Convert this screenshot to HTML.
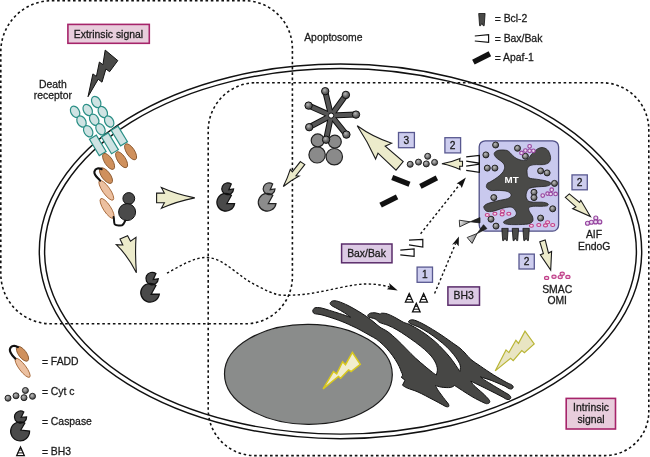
<!DOCTYPE html>
<html><head><meta charset="utf-8"><title>Apoptosis pathways</title>
<style>
html,body{margin:0;padding:0;background:#fff;}
body{width:650px;height:457px;overflow:hidden;font-family:"Liberation Sans",sans-serif;}
svg{display:block;will-change:transform;}
</style></head><body>
<svg width="650" height="457" viewBox="0 0 650 457" font-family="'Liberation Sans', sans-serif">
<defs>
<radialGradient id="gb" cx="0.4" cy="0.35" r="0.65">
<stop offset="0" stop-color="#bdbdbd"/><stop offset="0.5" stop-color="#858585"/><stop offset="1" stop-color="#3e3e3e"/>
</radialGradient>
<radialGradient id="gd" cx="0.4" cy="0.35" r="0.7">
<stop offset="0" stop-color="#b8b8b8"/><stop offset="0.5" stop-color="#707070"/><stop offset="1" stop-color="#3c3c3c"/>
</radialGradient>
<linearGradient id="gw" x1="0" y1="0" x2="1" y2="0.3"><stop offset="0" stop-color="#f4f4f4"/><stop offset="1" stop-color="#7c7c7c"/></linearGradient>
</defs>
<ellipse cx="340.5" cy="251.4" rx="301.2" ry="187.3" fill="#fff" stroke="#111" stroke-width="1.45"/>
<ellipse cx="340.5" cy="251.3" rx="295.9" ry="182.8" fill="none" stroke="#111" stroke-width="1.45"/>
<path d="M51.8,0.7 H244.4 A48,48 0 0 1 292.4,48.7 V276.8 A47,47 0 0 1 245.4,323.8 H50.8 A50,50 0 0 1 0.8,273.8 V51.7 A51,51 0 0 1 51.8,0.7 Z" fill="none" stroke="#111" stroke-width="1.6" stroke-dasharray="2.6 2.7"/>
<path d="M256.2,82.7 H601.8 A47,47 0 0 1 648.8,129.7 V411.6 A44,44 0 0 1 604.8,455.6 H254.7 A46.5,46.5 0 0 1 208.2,409.1 V130.7 A48,48 0 0 1 256.2,82.7 Z" fill="none" stroke="#111" stroke-width="1.6" stroke-dasharray="2.6 2.7"/>
<ellipse cx="308.4" cy="374.3" rx="83.9" ry="50" transform="rotate(0.4 308.4 374.3)" fill="#8a8c8b" stroke="#1a1a1a" stroke-width="1.2"/>
<path d="M312.6,310.8 C313,310.3 313.4,308.4 314.8,307.9 C316.2,307.4 318.5,307.5 321,307.9 C323.5,308.3 326.5,309.5 329.6,310.4 C332.7,311.3 336,312.4 339.5,313.5 C343,314.6 348.7,316.6 350.5,317.2 C349.5,316.5 346.6,314.2 344.4,312.8 C342.1,311.4 339.1,309.7 337,308.5 C334.9,307.3 332.6,306.4 331.5,305.5 C330.4,304.6 330,303.8 330.2,303 C330.4,302.2 331.4,301.2 332.7,300.9 C334,300.6 335.6,300.6 338.2,301.4 C340.8,302.2 344.8,303.9 348.1,305.5 C351.4,307.1 354.8,309.2 357.9,311 C361,312.8 363.8,314.6 366.5,316.5 C369.2,318.4 371.6,320.3 373.9,322.1 C376.1,323.9 377.7,325.6 380,327.2 C382.3,328.8 385,329.7 387.9,331.8 C390.8,333.9 394,336.9 397.1,339.7 C400.2,342.5 403.2,345.8 406.3,348.9 C409.4,352 412.4,355.2 415.5,358.1 C418.6,361 421.9,363.6 424.7,366 C427.5,368.4 430.6,370.9 432.5,372.4 C434.4,373.9 435.7,374.6 436.3,375 C436.5,374 437.6,371.2 437.4,369 C437.2,366.8 436.2,364.1 435.2,362 C434.2,359.9 432.9,358.2 431.2,356.1 C429.4,354 427.3,351.9 424.7,349.6 C422.1,347.3 418.6,344.6 415.5,342.3 C412.4,340 409.4,337.9 406.3,335.8 C403.2,333.7 400.2,331.6 397.1,329.9 C394,328.1 390.8,326.5 387.9,325.3 C385,324.1 382.1,323.7 380,322.6 C377.9,321.6 377,319.9 375.2,319 C373.4,318.1 370.2,317.8 369,317.2 C367.8,316.6 367.6,316 367.8,315.3 C368,314.6 369,313.6 370.2,313.2 C371.4,312.8 373.5,312.6 375.2,312.8 C376.9,313 379.3,313.9 380.1,314.1 C380.4,314 380.7,313.2 381.9,313.2 C383.1,313.2 385.2,313.2 387.3,313.9 C389.4,314.6 392,315.9 394.7,317.3 C397.4,318.7 401.1,321.1 403.3,322.2 C405.6,323.3 407.4,323.5 408.2,323.8 C409.6,324.6 413.8,326.6 416.8,328.4 C419.8,330.2 422.9,332.2 426,334.4 C429.1,336.6 432.3,339.2 435.2,341.7 C438.1,344.2 440.7,347.1 443.1,349.6 C445.5,352.1 447.6,354.4 449.6,356.8 C451.6,359.2 453.4,361.8 454.9,364 C456.4,366.2 458,368.6 458.8,369.9 C459.6,371.1 459.6,371.2 459.8,371.5 C459.9,370.6 460.7,367.8 460.4,366 C460.1,364.2 459.3,362.9 458.2,361 C457.1,359.1 455.5,356.8 453.6,354.5 C451.7,352.2 449.6,349.7 447,347.2 C444.4,344.7 440.9,341.8 437.8,339.4 C434.7,337 431.7,334.8 428.6,332.8 C425.5,330.8 422.3,328.9 419.4,327.4 C416.5,325.9 412.8,325 411,324 C409.2,323 408.2,322.2 408.5,321.5 C408.8,320.8 410.6,319.5 412.8,319.8 C415.1,320.1 418.7,321.8 422,323.4 C425.3,325 429,327.3 432.5,329.4 C436,331.5 439.6,333.8 443.1,336.2 C446.6,338.6 450.8,341.6 453.6,343.6 C456.4,345.6 458.1,346.6 460,348.2 C461.9,349.8 463.2,351.1 465,353 C466.8,354.9 468.4,357.3 471,359.5 C473.6,361.7 476.8,363.6 480.5,366.2 C484.2,368.8 489.1,372.1 493.4,374.8 C497.7,377.5 503.3,380.6 506.3,382.3 C509.3,384 510.5,384 511.6,384.8 C512.8,385.6 513.2,386.3 513.2,387 C513.2,387.7 512.5,388.6 511.8,388.9 C511.1,389.2 510.3,389.1 509,388.6 C507.7,388.1 507.2,387.3 504.2,385.9 C501.2,384.5 495.1,381.9 491.2,380.4 C487.2,378.9 482.3,377.5 480.5,376.9 C481.2,377.4 482.7,378.8 484.8,380.2 C486.9,381.6 490.2,383.5 493.4,385.5 C496.6,387.5 501.6,390.4 504.2,392 C506.8,393.6 507.9,393.9 509,394.8 C510.1,395.7 510.7,396.6 510.8,397.4 C510.9,398.2 510.1,399.1 509.4,399.4 C508.7,399.7 507.6,399.6 506.4,399.2 C505.2,398.8 505.2,398.4 502,396.7 C498.8,395 492.1,391.6 486.9,389 C481.7,386.4 473.5,382.5 470.8,381.2 C471.3,381.9 472,383.5 474,385.5 C476,387.5 480.2,390.9 482.6,393.1 C485,395.4 487.2,397.5 488.4,399 C489.6,400.5 489.9,401.2 489.8,402 C489.7,402.8 488.6,403.5 487.6,403.6 C486.6,403.7 486.6,404 484,402.8 C481.4,401.6 476.7,399.4 471.8,396.5 C466.9,393.6 457.5,387.3 454.6,385.5 C453.9,385.8 452.5,387.2 450.3,387.5 C448.1,387.8 444.2,387.5 441.7,387.2 C439.2,386.9 436.5,385.8 435.5,385.5 C436,386.4 436.9,388.6 438.5,390.9 C440.1,393.2 443.2,397.3 444.9,399.5 C446.5,401.7 447.8,402.8 448.4,404 C449,405.2 449,406.2 448.6,406.6 C448.2,407 447,406.9 446,406.6 C445,406.3 444.9,406 442.8,404.9 C440.7,403.8 437.2,401.8 433.1,399.7 C429,397.6 422.3,393.9 418,392 C413.7,390.1 409.9,389.2 407.3,388.1 C404.7,387 403.3,385.7 402.5,385.2 L405,380.2 L401.2,377.2 C401.4,376.9 402.6,376.1 402.6,375.2 C402.6,374.2 401.8,372.9 401.2,371.5 C400.6,370.1 400.2,368.5 399.2,366.5 C398.2,364.5 396.8,361.9 395.2,359.5 C393.6,357.1 391.7,354.3 389.7,351.9 C387.7,349.4 385.3,346.9 383.1,344.8 C380.9,342.7 378.8,340.9 376.6,339.3 C374.4,337.8 372.4,336.9 370,335.5 C367.6,334.1 364.6,332.4 362,331 C359.4,329.6 357.6,328.6 354.2,327 C350.8,325.4 346,323.1 341.9,321.5 C337.8,319.9 333.1,318.3 329.6,317.2 C326.1,316.1 323.6,315.3 321,314.7 C318.4,314.1 315.6,314.1 314.2,313.5 C312.8,312.9 312.9,311.2 312.6,310.8 Z" fill="#474745" stroke="#111" stroke-width="1" stroke-linejoin="round"/>
<polygon points="323.1,388.8 333.4,371.5 336.7,373.9 342.6,361.7 345.5,364.7 352.4,352.5 360.3,364.3 351.1,371.5 348.5,369.9 340.6,378.3 338.4,376.5" fill="#f1edcf" stroke="#d8c81e" stroke-width="1.5" stroke-linejoin="miter"/>
<polygon points="495.2,370.9 506,349.9 508.9,352.6 515.9,340.3 518.5,343.4 525,331.2 534.2,344 524.4,352.6 521.8,350.5 513.2,360.7 510.6,358.3" fill="#e9e5c3" stroke="#b9b536" stroke-width="1.2" stroke-linejoin="miter"/>
<polygon points="105.2,50.1 117.8,60.6 109.6,71.7 105.9,69 102,82.2 98.2,79.2 88,96.7 92.9,73.9 96.4,76.4 99.4,62 102.9,64.7" fill="#4a4a48" stroke="#111" stroke-width="1" stroke-linejoin="miter"/>
<ellipse cx="75.1" cy="111.8" rx="4.2" ry="6" transform="rotate(-30 75.1 111.8)" fill="#cfe3e3" stroke="#2b8f86" stroke-width="1.2"/>
<ellipse cx="81.5" cy="121.5" rx="4.2" ry="6" transform="rotate(-30 81.5 121.5)" fill="#cfe3e3" stroke="#2b8f86" stroke-width="1.2"/>
<ellipse cx="88.2" cy="131.2" rx="4.2" ry="6" transform="rotate(-30 88.2 131.2)" fill="#cfe3e3" stroke="#2b8f86" stroke-width="1.2"/>
<ellipse cx="87.7" cy="110" rx="4.2" ry="6" transform="rotate(-30 87.7 110)" fill="#cfe3e3" stroke="#2b8f86" stroke-width="1.2"/>
<ellipse cx="94.2" cy="119.7" rx="4.2" ry="6" transform="rotate(-30 94.2 119.7)" fill="#cfe3e3" stroke="#2b8f86" stroke-width="1.2"/>
<ellipse cx="100.5" cy="129.2" rx="4.2" ry="6" transform="rotate(-30 100.5 129.2)" fill="#cfe3e3" stroke="#2b8f86" stroke-width="1.2"/>
<ellipse cx="96.2" cy="102" rx="4.2" ry="6" transform="rotate(-30 96.2 102)" fill="#cfe3e3" stroke="#2b8f86" stroke-width="1.2"/>
<ellipse cx="102.8" cy="112" rx="4.2" ry="6" transform="rotate(-30 102.8 112)" fill="#cfe3e3" stroke="#2b8f86" stroke-width="1.2"/>
<ellipse cx="109.2" cy="121.5" rx="4.2" ry="6" transform="rotate(-30 109.2 121.5)" fill="#cfe3e3" stroke="#2b8f86" stroke-width="1.2"/>
<rect x="93.8" y="135.9" width="8" height="19" transform="rotate(-31 97.8 145.4)" fill="#cfe3e3" stroke="#2b8f86" stroke-width="1.2"/>
<rect x="105.9" y="133.5" width="8" height="19.6" transform="rotate(-31 109.9 143.3)" fill="#cfe3e3" stroke="#2b8f86" stroke-width="1.2"/>
<rect x="115.3" y="126.8" width="8" height="18.4" transform="rotate(-31 119.3 136)" fill="#cfe3e3" stroke="#2b8f86" stroke-width="1.2"/>
<ellipse cx="108.6" cy="161.4" rx="4" ry="9.2" transform="rotate(-33 108.6 161.4)" fill="#cf905c" stroke="#8c5a32" stroke-width="0.9"/>
<ellipse cx="121.6" cy="159.7" rx="4" ry="9.2" transform="rotate(-33 121.6 159.7)" fill="#cf905c" stroke="#8c5a32" stroke-width="0.9"/>
<ellipse cx="130.6" cy="151.8" rx="4" ry="9.2" transform="rotate(-33 130.6 151.8)" fill="#cf905c" stroke="#8c5a32" stroke-width="0.9"/>
<ellipse cx="106" cy="175.6" rx="4.2" ry="9.3" transform="rotate(-37 106 175.6)" fill="#cf905c" stroke="#8c5a32" stroke-width="0.9"/>
<ellipse cx="106.3" cy="190.3" rx="3.7" ry="11.8" transform="rotate(-35 106.3 190.3)" fill="#ecc0a0" stroke="#a86a3c" stroke-width="0.9"/>
<ellipse cx="107.1" cy="208.4" rx="3.7" ry="11.6" transform="rotate(-33 107.1 208.4)" fill="#ecc0a0" stroke="#a86a3c" stroke-width="0.9"/>
<path d="M101.6,169.2 C99,167.8 95.4,168 94.4,171.6 C93.8,175 97.2,177.2 100.1,180.6" fill="none" stroke="#111" stroke-width="2.1" stroke-linecap="round"/>
<path d="M113.6,217 C114.4,219.6 113.6,222.6 114.8,224.4 C116.2,226 119.6,225.6 122,225.2 C124,224.4 124.4,222.4 125.2,220.6" fill="none" stroke="#111" stroke-width="2" stroke-linecap="round"/>
<circle cx="128.8" cy="198.5" r="5.9" fill="#4a4a4a" stroke="#111" stroke-width="1"/>
<circle cx="127.1" cy="212.1" r="8.5" fill="#4a4a4a" stroke="#111" stroke-width="1"/>
<path d="M156.6,193.1 L164.4,193.1 L161.4,187.6 Q177,194.6 194.8,197.9 Q177,201.4 161.4,208.3 L164.4,202.8 L156.6,202.8 Z" fill="#ecebcb" stroke="#1a1a1a" stroke-width="1.1" stroke-linejoin="miter"/>
<path d="M120,239.1 L127.6,235.8 L130.5,241.3 L136,237.4 C135.2,250 135.6,262 136.4,272.8 C131,262 124,252 116.3,244.6 L122.8,245 Z" fill="#ecebcb" stroke="#1a1a1a" stroke-width="1.1" stroke-linejoin="miter"/>
<path d="M300.4,161.6 L304.8,164.6 L296,175.7 L299.1,176 Q290.5,180.6 283.3,186.5 Q287.6,178 290.3,169.4 L292.3,171.9 Z" fill="#ecebcb" stroke="#1a1a1a" stroke-width="1.1" stroke-linejoin="miter"/>
<path d="M357.2,125.8 Q373,137.2 391.7,143.2 L385.2,146.2 L403.2,161.6 L396,170.1 L378,153.1 L375.6,159 Q367.7,141.7 357.2,125.8 Z" fill="#ecebcb" stroke="#1a1a1a" stroke-width="1.1" stroke-linejoin="miter"/>
<path d="M441.9,163.7 C449,162.4 455,160.6 460,158.4 L459.6,161.3 L462.5,161.3 L462.5,166.2 L459.6,166.2 L460,169.6 C455,167 449,165 441.9,163.7 Z" fill="#ecebcb" stroke="#1a1a1a" stroke-width="1.1" stroke-linejoin="miter"/>
<path d="M565.3,197.3 L569.3,193.9 L579.6,202.5 L580.8,200.3 L590.4,216.5 L572.7,208.6 L575.9,206.9 Z" fill="#ecebcb" stroke="#1a1a1a" stroke-width="1.1" stroke-linejoin="miter"/>
<path d="M539.8,241.8 L545.2,239.9 L548.5,253.1 L551.6,251.4 L550.7,270 L540.3,254.7 L543.4,253.6 Z" fill="#ecebcb" stroke="#1a1a1a" stroke-width="1.1" stroke-linejoin="miter"/>
<path d="M1.1,1 L3.6,-4.65 A5.9,5.9 0 1 0 5.9,0.3 Z M-0.9,15 L3.7,6.6 A8.9,8.9 0 1 0 6.9,14.9 Z" transform="translate(227.7,188.7)" fill="#4a4a4a" stroke="#111" stroke-width="1.2"/>
<path d="M1.1,1 L3.6,-4.65 A5.9,5.9 0 1 0 5.9,0.3 Z M-0.9,15 L3.7,6.6 A8.9,8.9 0 1 0 6.9,14.9 Z" transform="translate(269.1,188.7)" fill="#8c8c8c" stroke="#222" stroke-width="1.2"/>
<path d="M1.1,1 L3.6,-4.65 A5.9,5.9 0 1 0 5.9,0.3 Z M-0.9,15 L3.7,6.6 A8.9,8.9 0 1 0 6.9,14.9 Z" transform="translate(152.1,278.5) scale(1.05)" fill="#4a4a4a" stroke="#111" stroke-width="1.2"/>
<path transform="translate(20.2,416.5)" d="M0.9,0.9 L3.6,-4.6 A6.1,6.1 0 1 0 6.4,0.4 Z M0.6,13.5 L4.6,6.6 A9.5,9.5 0 1 0 9.4,14.6 Z" fill="#4a4a4a" stroke="#111" stroke-width="1.2"/>
<circle cx="317.1" cy="154.8" r="8.2" fill="#8a8a8a" stroke="#222" stroke-width="1.2"/>
<circle cx="334.3" cy="156.7" r="8.2" fill="#8a8a8a" stroke="#222" stroke-width="1.2"/>
<circle cx="317.7" cy="140.4" r="6.5" fill="#8a8a8a" stroke="#222" stroke-width="1.2"/>
<circle cx="334.8" cy="141.7" r="6.5" fill="#8a8a8a" stroke="#222" stroke-width="1.2"/>
<line x1="331.1" y1="115.6" x2="325.2" y2="91.2" stroke="#111" stroke-width="6" stroke-linecap="round"/>
<line x1="331.1" y1="115.6" x2="345.9" y2="94.9" stroke="#111" stroke-width="6" stroke-linecap="round"/>
<line x1="331.1" y1="115.6" x2="356" y2="114.6" stroke="#111" stroke-width="6" stroke-linecap="round"/>
<line x1="331.1" y1="115.6" x2="346.4" y2="134.6" stroke="#111" stroke-width="6" stroke-linecap="round"/>
<line x1="331.1" y1="115.6" x2="326.1" y2="139.7" stroke="#111" stroke-width="6" stroke-linecap="round"/>
<line x1="331.1" y1="115.6" x2="309.2" y2="127.2" stroke="#111" stroke-width="6" stroke-linecap="round"/>
<line x1="331.1" y1="115.6" x2="308.6" y2="105.6" stroke="#111" stroke-width="6" stroke-linecap="round"/>
<line x1="331.1" y1="115.6" x2="325.2" y2="91.2" stroke="#555" stroke-width="4" stroke-linecap="round"/>
<line x1="331.1" y1="115.6" x2="345.9" y2="94.9" stroke="#555" stroke-width="4" stroke-linecap="round"/>
<line x1="331.1" y1="115.6" x2="356" y2="114.6" stroke="#555" stroke-width="4" stroke-linecap="round"/>
<line x1="331.1" y1="115.6" x2="346.4" y2="134.6" stroke="#555" stroke-width="4" stroke-linecap="round"/>
<line x1="331.1" y1="115.6" x2="326.1" y2="139.7" stroke="#555" stroke-width="4" stroke-linecap="round"/>
<line x1="331.1" y1="115.6" x2="309.2" y2="127.2" stroke="#555" stroke-width="4" stroke-linecap="round"/>
<line x1="331.1" y1="115.6" x2="308.6" y2="105.6" stroke="#555" stroke-width="4" stroke-linecap="round"/>
<circle cx="325.2" cy="91.2" r="3.7" fill="url(#gd)" stroke="#111" stroke-width="1"/>
<circle cx="345.9" cy="94.9" r="3.7" fill="url(#gd)" stroke="#111" stroke-width="1"/>
<circle cx="356" cy="114.6" r="3.7" fill="url(#gd)" stroke="#111" stroke-width="1"/>
<circle cx="346.4" cy="134.6" r="3.7" fill="url(#gd)" stroke="#111" stroke-width="1"/>
<circle cx="326.1" cy="139.7" r="3.7" fill="url(#gd)" stroke="#111" stroke-width="1"/>
<circle cx="309.2" cy="127.2" r="3.7" fill="url(#gd)" stroke="#111" stroke-width="1"/>
<circle cx="308.6" cy="105.6" r="3.7" fill="url(#gd)" stroke="#111" stroke-width="1"/>
<circle cx="331.1" cy="115.6" r="2.6" fill="#fff" stroke="#111" stroke-width="1"/>
<circle cx="410.2" cy="164.3" r="3" fill="url(#gb)" stroke="#242424" stroke-width="1"/>
<circle cx="418.5" cy="162.1" r="3" fill="url(#gb)" stroke="#242424" stroke-width="1"/>
<circle cx="426.3" cy="163.9" r="3" fill="url(#gb)" stroke="#242424" stroke-width="1"/>
<circle cx="427.7" cy="156.3" r="3" fill="url(#gb)" stroke="#242424" stroke-width="1"/>
<circle cx="434.6" cy="162.4" r="3" fill="url(#gb)" stroke="#242424" stroke-width="1"/>
<circle cx="8" cy="398.2" r="3" fill="url(#gb)" stroke="#242424" stroke-width="1"/>
<circle cx="16" cy="395.8" r="3" fill="url(#gb)" stroke="#242424" stroke-width="1"/>
<circle cx="24" cy="397.7" r="3" fill="url(#gb)" stroke="#242424" stroke-width="1"/>
<circle cx="25.4" cy="390.5" r="3" fill="url(#gb)" stroke="#242424" stroke-width="1"/>
<circle cx="32.5" cy="396.3" r="3" fill="url(#gb)" stroke="#242424" stroke-width="1"/>
<rect x="391.6" y="178.2" width="18.5" height="5.3" transform="rotate(21 400.8 180.9)" fill="#111"/>
<rect x="419.4" y="179.5" width="18.5" height="5.3" transform="rotate(-27 428.7 182.2)" fill="#111"/>
<rect x="379.6" y="198.3" width="18.5" height="5.3" transform="rotate(-27 388.9 201)" fill="#111"/>
<rect x="472.4" y="55.2" width="18.5" height="5.5" transform="rotate(-27 481.6 58)" fill="#111"/>
<rect x="479.2" y="140.8" width="79.4" height="90.3" rx="6" ry="6" fill="#c9c9ee" stroke="#4f4f86" stroke-width="1.3"/>
<path d="M494.2,153.5 C494.4,152.3 496,151.1 497.7,150.5 C499.4,149.9 502.8,149.9 504.6,150.1 C506.5,150.3 507.2,150.3 508.8,151.5 C510.4,152.7 512.4,155.6 514.3,157 C516.1,158.4 517.8,159.3 519.9,159.8 C522,160.3 524.7,160.9 526.8,159.8 C528.9,158.8 530.4,155.3 532.3,153.5 C534.1,151.7 536,149.7 537.9,148.7 C539.8,147.7 541.7,147.3 543.4,147.7 C545.1,148 547.1,149.1 548.3,150.8 C549.5,152.5 550.5,155.8 550.6,157.7 C550.7,159.6 550.1,161.3 548.9,162.5 C547.7,163.7 545.5,164.2 543.4,164.6 C541.3,164.9 538.6,164.5 536.5,164.6 C534.4,164.7 532.4,164.7 530.9,165.3 C529.4,165.9 528.1,166.8 527.5,168.1 C526.9,169.4 526.9,171.3 527.1,172.9 C527.3,174.5 527.3,176.8 528.9,177.8 C530.5,178.9 533.9,178.7 536.5,179.2 C539.1,179.7 542.5,180 544.8,180.6 C547.1,181.2 549.4,181.9 550.3,182.6 C551.2,183.3 551,184 550.3,184.6 C549.6,185.2 548.5,185.8 546.2,186.2 C543.9,186.6 539.3,186.6 536.5,186.9 C533.7,187.2 531.2,187.5 529.6,188.3 C528,189.1 527.4,190.4 526.8,191.8 C526.2,193.2 525.9,195.1 526.1,196.6 C526.3,198.1 526.9,199.9 528.2,200.8 C529.5,201.7 531.4,202 533.7,202.2 C536,202.4 539.7,202 542,202.2 C544.3,202.4 546.7,202.9 547.6,203.5 C548.5,204.1 548.5,205.1 547.6,205.6 C546.7,206.1 544.3,206.2 542,206.3 C539.7,206.4 535.9,206.1 533.7,206.3 C531.5,206.5 529.6,206.8 528.9,207.7 C528.2,208.6 529,210.5 529.6,211.9 C530.2,213.3 531.7,214.6 532.3,216 C532.9,217.4 533.2,219 533,220.2 C532.8,221.3 532.2,222.2 530.9,222.9 C529.6,223.6 528.6,224 525.4,224.3 C522.2,224.6 515.1,224.7 511.6,224.6 C508.1,224.5 505.9,224.1 504.6,223.6 C503.3,223.1 503.4,222.3 503.9,221.6 C504.4,220.9 505.7,220.3 507.4,219.5 C509.1,218.7 512.8,217.8 514.3,216.7 C515.8,215.6 516.4,214.5 516.4,213.2 C516.4,211.9 515.3,210.1 514.3,209.1 C513.3,208.1 512.3,207.1 510.2,207 C508.1,206.9 504.7,207.7 501.9,208.4 C499.1,209.1 496.1,210.7 493.5,211.2 C490.9,211.7 488.2,211.8 486.6,211.2 C485,210.6 484.2,208.6 483.9,207.7 C483.5,206.8 483.8,206.3 484.5,205.6 C485.2,204.9 485.8,204.3 488,203.5 C490.2,202.7 494.5,201.6 497.7,200.8 C500.9,200 505.2,199.5 507.4,198.7 C509.6,197.9 510.4,196.8 510.9,195.9 C511.4,195 511,194 510.2,193.2 C509.4,192.4 508.1,191.6 506,191.1 C503.9,190.6 500.2,190.5 497.7,190.4 C495.2,190.3 492.6,190.9 490.8,190.4 C489,189.9 487.2,188.8 486.6,187.6 C486,186.4 486.6,184.5 487.3,183.5 C488,182.5 489.1,182.7 490.8,181.6 C492.5,180.5 495.6,178.8 497.7,177.1 C499.8,175.4 502,173.4 503.2,171.6 C504.4,169.8 504.8,167.6 504.6,166 C504.4,164.4 503.3,163.3 501.9,161.9 C500.5,160.5 497.6,159.1 496.3,157.7 C495,156.3 494,154.7 494.2,153.5 Z" fill="#4a4a48" stroke="#222" stroke-width="0.8"/>
<circle cx="495.6" cy="145" r="3" fill="url(#gb)" stroke="#242424" stroke-width="1"/>
<circle cx="485.9" cy="154.9" r="3" fill="url(#gb)" stroke="#242424" stroke-width="1"/>
<circle cx="487.3" cy="168.1" r="3" fill="url(#gb)" stroke="#242424" stroke-width="1"/>
<circle cx="494.9" cy="168.1" r="3" fill="url(#gb)" stroke="#242424" stroke-width="1"/>
<circle cx="517.5" cy="148.3" r="3" fill="url(#gb)" stroke="#242424" stroke-width="1"/>
<circle cx="525.4" cy="156.3" r="3" fill="url(#gb)" stroke="#242424" stroke-width="1"/>
<circle cx="540.6" cy="170.9" r="3" fill="url(#gb)" stroke="#242424" stroke-width="1"/>
<circle cx="547.1" cy="172.9" r="3" fill="url(#gb)" stroke="#242424" stroke-width="1"/>
<circle cx="554.5" cy="183.4" r="3" fill="url(#gb)" stroke="#242424" stroke-width="1"/>
<circle cx="534" cy="192.3" r="3" fill="url(#gb)" stroke="#242424" stroke-width="1"/>
<circle cx="534" cy="197.6" r="3" fill="url(#gb)" stroke="#242424" stroke-width="1"/>
<circle cx="493.8" cy="197.6" r="3" fill="url(#gb)" stroke="#242424" stroke-width="1"/>
<circle cx="552.7" cy="208.8" r="3" fill="url(#gb)" stroke="#242424" stroke-width="1"/>
<circle cx="540.6" cy="218.1" r="3" fill="url(#gb)" stroke="#242424" stroke-width="1"/>
<circle cx="491" cy="219.2" r="3" fill="url(#gb)" stroke="#242424" stroke-width="1"/>
<circle cx="496" cy="226.1" r="3" fill="url(#gb)" stroke="#242424" stroke-width="1"/>
<ellipse cx="529.6" cy="146.3" rx="1.8" ry="1.8" fill="#ead9f0" stroke="#96459f" stroke-width="1.15"/>
<ellipse cx="525.4" cy="150.5" rx="1.8" ry="1.8" fill="#ead9f0" stroke="#96459f" stroke-width="1.15"/>
<ellipse cx="529.6" cy="150.8" rx="1.8" ry="1.8" fill="#ead9f0" stroke="#96459f" stroke-width="1.15"/>
<ellipse cx="533.4" cy="150.8" rx="1.8" ry="1.8" fill="#ead9f0" stroke="#96459f" stroke-width="1.15"/>
<ellipse cx="521.5" cy="152.9" rx="1.8" ry="1.8" fill="#ead9f0" stroke="#96459f" stroke-width="1.15"/>
<ellipse cx="551.7" cy="189.7" rx="1.8" ry="1.8" fill="#ead9f0" stroke="#96459f" stroke-width="1.15"/>
<ellipse cx="547.6" cy="193.6" rx="1.8" ry="1.8" fill="#ead9f0" stroke="#96459f" stroke-width="1.15"/>
<ellipse cx="542.7" cy="195.5" rx="1.8" ry="1.8" fill="#ead9f0" stroke="#96459f" stroke-width="1.15"/>
<ellipse cx="550.7" cy="193.9" rx="1.8" ry="1.8" fill="#ead9f0" stroke="#96459f" stroke-width="1.15"/>
<ellipse cx="555.6" cy="193.9" rx="1.8" ry="1.8" fill="#ead9f0" stroke="#96459f" stroke-width="1.15"/>
<ellipse cx="487.3" cy="215" rx="2" ry="1.5" fill="#f2d6e4" stroke="#c0408a" stroke-width="1.15"/>
<ellipse cx="494.9" cy="213.7" rx="2" ry="1.5" fill="#f2d6e4" stroke="#c0408a" stroke-width="1.15"/>
<ellipse cx="502.5" cy="211.2" rx="2" ry="1.5" fill="#f2d6e4" stroke="#c0408a" stroke-width="1.15"/>
<ellipse cx="502.1" cy="214.4" rx="2" ry="1.5" fill="#f2d6e4" stroke="#c0408a" stroke-width="1.15"/>
<ellipse cx="508.8" cy="213.7" rx="2" ry="1.5" fill="#f2d6e4" stroke="#c0408a" stroke-width="1.15"/>
<ellipse cx="531.4" cy="225.7" rx="2" ry="1.5" fill="#f2d6e4" stroke="#c0408a" stroke-width="1.15"/>
<ellipse cx="538.8" cy="225" rx="2" ry="1.5" fill="#f2d6e4" stroke="#c0408a" stroke-width="1.15"/>
<ellipse cx="545.5" cy="225.4" rx="2" ry="1.5" fill="#f2d6e4" stroke="#c0408a" stroke-width="1.15"/>
<ellipse cx="547.6" cy="222.2" rx="2" ry="1.5" fill="#f2d6e4" stroke="#c0408a" stroke-width="1.15"/>
<ellipse cx="552.7" cy="225" rx="2" ry="1.5" fill="#f2d6e4" stroke="#c0408a" stroke-width="1.15"/>
<text x="511.6" y="182.6" text-anchor="middle" font-size="9.8" font-weight="bold" fill="#fff">MT</text>
<path transform="translate(505 228.4) scale(1)" d="M-3.2,0 L3.2,0 L2.3,12.2 L1.3,12.2 L0,9.8 L-1.3,12.2 L-2.3,12.2 Z" fill="#4a4a48" stroke="#111" stroke-width="0.8" stroke-linejoin="miter"/>
<path transform="translate(515.4 228.4) scale(1)" d="M-3.2,0 L3.2,0 L2.3,12.2 L1.3,12.2 L0,9.8 L-1.3,12.2 L-2.3,12.2 Z" fill="#4a4a48" stroke="#111" stroke-width="0.8" stroke-linejoin="miter"/>
<path transform="translate(526.1 228.4) scale(1)" d="M-3.2,0 L3.2,0 L2.3,12.2 L1.3,12.2 L0,9.8 L-1.3,12.2 L-2.3,12.2 Z" fill="#4a4a48" stroke="#111" stroke-width="0.8" stroke-linejoin="miter"/>
<path transform="translate(481.9 13.5) scale(1)" d="M-3.2,0 L3.2,0 L2.3,12.2 L1.3,12.2 L0,9.8 L-1.3,12.2 L-2.3,12.2 Z" fill="#4a4a48" stroke="#111" stroke-width="0.8" stroke-linejoin="miter"/>
<path d="M466.2,156.9 L479.4,155.4 L479.4,163.2 L466.2,161.2 M466.2,166.2 L479.4,164.2 L479.4,172.3 L466.2,170.4" fill="none" stroke="#111" stroke-width="1.2" stroke-linejoin="miter"/>
<polygon points="459.3,220.2 459.7,226.8 470.2,221.8" fill="url(#gw)" stroke="#222" stroke-width="0.9"/>
<polygon points="470.2,221.8 480,217.6 480,222.9" fill="#222" stroke="#111" stroke-width="0.7"/>
<polygon points="467.2,237.5 472.1,243.4 477.1,233.5" fill="url(#gw)" stroke="#222" stroke-width="0.9"/>
<polygon points="477.1,233.5 483.5,224.7 486.9,228.6" fill="#222" stroke="#111" stroke-width="0.7"/>
<polyline points="409,240.2 422.8,239.3 422.8,247 409,244.8" fill="#fff" stroke="#111" stroke-width="1.2" stroke-linejoin="miter"/>
<polyline points="400.3,250.2 414.1,248.9 414.1,256.3 400.3,254.8" fill="#fff" stroke="#111" stroke-width="1.2" stroke-linejoin="miter"/>
<polyline points="474.8,36 488.6,34.7 488.6,42.4 474.8,41" fill="#fff" stroke="#111" stroke-width="1.2" stroke-linejoin="miter"/>
<g transform="translate(409.2 297.4)"><path d="M0,-3.9 L3.8,4.7 L-3.8,4.7 Z" fill="#fff" stroke="#111" stroke-width="1.3" stroke-linejoin="miter"/><path d="M-1.7,-0.9 L1.7,-0.9 M-2.9,2 L2.9,2" stroke="#111" stroke-width="1" fill="none"/><path d="M0,-3.9 L1.1,-1.9 L-1.1,-1.9 Z" fill="#111"/></g>
<g transform="translate(423.6 297.4)"><path d="M0,-3.9 L3.8,4.7 L-3.8,4.7 Z" fill="#fff" stroke="#111" stroke-width="1.3" stroke-linejoin="miter"/><path d="M-1.7,-0.9 L1.7,-0.9 M-2.9,2 L2.9,2" stroke="#111" stroke-width="1" fill="none"/><path d="M0,-3.9 L1.1,-1.9 L-1.1,-1.9 Z" fill="#111"/></g>
<g transform="translate(416.3 307.2)"><path d="M0,-3.9 L3.8,4.7 L-3.8,4.7 Z" fill="#fff" stroke="#111" stroke-width="1.3" stroke-linejoin="miter"/><path d="M-1.7,-0.9 L1.7,-0.9 M-2.9,2 L2.9,2" stroke="#111" stroke-width="1" fill="none"/><path d="M0,-3.9 L1.1,-1.9 L-1.1,-1.9 Z" fill="#111"/></g>
<g transform="translate(20.5 450.9)"><path d="M0,-3.9 L3.8,4.7 L-3.8,4.7 Z" fill="#fff" stroke="#111" stroke-width="1.3" stroke-linejoin="miter"/><path d="M-1.7,-0.9 L1.7,-0.9 M-2.9,2 L2.9,2" stroke="#111" stroke-width="1" fill="none"/><path d="M0,-3.9 L1.1,-1.9 L-1.1,-1.9 Z" fill="#111"/></g>
<path d="M167,273.2 C180,266 194,257.4 206,257.5 C216,257.6 224,263 232.3,269.2 C241,275.6 248,281.6 257.8,286.2 C265,289.8 272,293.4 278.5,294.8 C283,295.4 287,295.4 290.8,295.2 C307,295 322,291.4 340,287.7 C350,285.6 358,284 367,284 C375,284 383,285 389.5,287" fill="none" stroke="#111" stroke-width="1.4" stroke-dasharray="2.4 2.4"/>
<polygon points="397.7,290.4 386.8,289.3 389.9,287.1 389.1,283" fill="#111"/>
<path d="M420.6,233.8 L459.8,184.4" fill="none" stroke="#111" stroke-width="1.4" stroke-dasharray="2.4 2.4"/>
<polygon points="465.9,177.5 461.8,187.9 459.8,184.3 456.6,183.6" fill="#111"/>
<path d="M434.6,293.5 L455.6,243.6" fill="none" stroke="#111" stroke-width="1.4" stroke-dasharray="2.4 2.4"/>
<polygon points="458.9,236.6 458.7,246.3 456,243.2 452,244.8" fill="#111"/>
<ellipse cx="595.8" cy="218" rx="2" ry="2" fill="#ead9f0" stroke="#96459f" stroke-width="1.15"/>
<ellipse cx="587.5" cy="223.2" rx="2" ry="2" fill="#ead9f0" stroke="#96459f" stroke-width="1.15"/>
<ellipse cx="591.4" cy="222.2" rx="2" ry="2" fill="#ead9f0" stroke="#96459f" stroke-width="1.15"/>
<ellipse cx="595.6" cy="221.9" rx="2" ry="2" fill="#ead9f0" stroke="#96459f" stroke-width="1.15"/>
<ellipse cx="599.8" cy="221.9" rx="2" ry="2" fill="#ead9f0" stroke="#96459f" stroke-width="1.15"/>
<ellipse cx="546.6" cy="277.9" rx="2.1" ry="1.6" fill="#f2d6e4" stroke="#c0408a" stroke-width="1.15"/>
<ellipse cx="554" cy="276.8" rx="2.1" ry="1.6" fill="#f2d6e4" stroke="#c0408a" stroke-width="1.15"/>
<ellipse cx="560.2" cy="277.1" rx="2.1" ry="1.6" fill="#f2d6e4" stroke="#c0408a" stroke-width="1.15"/>
<ellipse cx="562.2" cy="273.8" rx="2.1" ry="1.6" fill="#f2d6e4" stroke="#c0408a" stroke-width="1.15"/>
<ellipse cx="567.9" cy="276.9" rx="2.1" ry="1.6" fill="#f2d6e4" stroke="#c0408a" stroke-width="1.15"/>
<ellipse cx="22.5" cy="353.8" rx="3.9" ry="8.8" transform="rotate(-37 22.5 353.8)" fill="#cf905c" stroke="#8c5a32" stroke-width="0.9"/>
<ellipse cx="22.6" cy="367.8" rx="3.4" ry="11.7" transform="rotate(-37 22.6 367.8)" fill="#ecc0a0" stroke="#a86a3c" stroke-width="0.9"/>
<path d="M17.9,347.2 C15,345 10.6,345.4 9.9,349.4 C9.5,353 12.4,355.4 15.3,358.6" fill="none" stroke="#111" stroke-width="2.2" stroke-linecap="round"/>
<rect x="398.5" y="132.5" width="15.9" height="15.2" fill="#cdcdee" stroke="#585890" stroke-width="1.3"/>
<text x="406.4" y="143.6" text-anchor="middle" font-size="10.2" fill="#1a1a1a" stroke="#1a1a1a" stroke-width="0.28">3</text>
<rect x="444.9" y="137.7" width="15.7" height="15.2" fill="#cdcdee" stroke="#585890" stroke-width="1.3"/>
<text x="452.7" y="148.8" text-anchor="middle" font-size="10.2" fill="#1a1a1a" stroke="#1a1a1a" stroke-width="0.28">2</text>
<rect x="572" y="174.9" width="15.3" height="14.9" fill="#cdcdee" stroke="#585890" stroke-width="1.3"/>
<text x="579.6" y="185.8" text-anchor="middle" font-size="10.2" fill="#1a1a1a" stroke="#1a1a1a" stroke-width="0.28">2</text>
<rect x="519" y="254.1" width="15.3" height="14.9" fill="#cdcdee" stroke="#585890" stroke-width="1.3"/>
<text x="526.6" y="265.1" text-anchor="middle" font-size="10.2" fill="#1a1a1a" stroke="#1a1a1a" stroke-width="0.28">2</text>
<rect x="417.1" y="267.1" width="15.4" height="15.2" fill="#cdcdee" stroke="#585890" stroke-width="1.3"/>
<text x="424.8" y="278.2" text-anchor="middle" font-size="10.2" fill="#1a1a1a" stroke="#1a1a1a" stroke-width="0.28">1</text>
<rect x="341.6" y="244" width="50.4" height="18.8" fill="#dccae4" stroke="#5a2c6a" stroke-width="1.5"/>
<text x="366.5" y="257" text-anchor="middle" font-size="10.4" fill="#1a1a1a" stroke="#1a1a1a" stroke-width="0.28">Bax/Bak</text>
<rect x="447.9" y="286.9" width="31.6" height="18.3" fill="#dccae4" stroke="#5a2c6a" stroke-width="1.5"/>
<text x="463.7" y="299.3" text-anchor="middle" font-size="10.4" fill="#1a1a1a" stroke="#1a1a1a" stroke-width="0.28">BH3</text>
<rect x="67.9" y="24.4" width="81.4" height="18.9" fill="#e8cddc" stroke="#a6246a" stroke-width="1.6"/>
<text x="108.4" y="37.8" text-anchor="middle" font-size="10.4" fill="#1a1a1a" stroke="#1a1a1a" stroke-width="0.28">Extrinsic signal</text>
<rect x="566.2" y="398.4" width="49.3" height="30.6" fill="#e8cddc" stroke="#a6246a" stroke-width="1.6"/>
<text x="591" y="411.2" text-anchor="middle" font-size="10.4" fill="#1a1a1a" stroke="#1a1a1a" stroke-width="0.28">Intrinsic</text>
<text x="591" y="423" text-anchor="middle" font-size="10.4" fill="#1a1a1a" stroke="#1a1a1a" stroke-width="0.28">signal</text>
<text x="52.9" y="87.6" text-anchor="middle" font-size="10.4" fill="#1a1a1a" stroke="#1a1a1a" stroke-width="0.28">Death</text>
<text x="52.9" y="98.8" text-anchor="middle" font-size="10.4" fill="#1a1a1a" stroke="#1a1a1a" stroke-width="0.28">receptor</text>
<text x="304.2" y="41.4" text-anchor="start" font-size="10.4" fill="#1a1a1a" stroke="#1a1a1a" stroke-width="0.28">Apoptosome</text>
<text x="494.7" y="21.8" text-anchor="start" font-size="10.4" fill="#1a1a1a" stroke="#1a1a1a" stroke-width="0.28"><tspan dy="1.2">=</tspan><tspan dy="-1.2"> Bcl-2</tspan></text>
<text x="494.7" y="41.5" text-anchor="start" font-size="10.4" fill="#1a1a1a" stroke="#1a1a1a" stroke-width="0.28"><tspan dy="1.2">=</tspan><tspan dy="-1.2"> Bax/Bak</tspan></text>
<text x="494.7" y="60.5" text-anchor="start" font-size="10.4" fill="#1a1a1a" stroke="#1a1a1a" stroke-width="0.28"><tspan dy="1.2">=</tspan><tspan dy="-1.2"> Apaf-1</tspan></text>
<text x="594" y="237.8" text-anchor="middle" font-size="10.4" fill="#1a1a1a" stroke="#1a1a1a" stroke-width="0.28">AIF</text>
<text x="594.2" y="249.7" text-anchor="middle" font-size="10.4" fill="#1a1a1a" stroke="#1a1a1a" stroke-width="0.28">EndoG</text>
<text x="557.2" y="292.5" text-anchor="middle" font-size="10.4" fill="#1a1a1a" stroke="#1a1a1a" stroke-width="0.28">SMAC</text>
<text x="557.2" y="304.1" text-anchor="middle" font-size="10.4" fill="#1a1a1a" stroke="#1a1a1a" stroke-width="0.28">OMI</text>
<text x="41.9" y="364.6" text-anchor="start" font-size="10.4" fill="#1a1a1a" stroke="#1a1a1a" stroke-width="0.28"><tspan dy="1.2">=</tspan><tspan dy="-1.2"> FADD</tspan></text>
<text x="41.9" y="394.5" text-anchor="start" font-size="10.4" fill="#1a1a1a" stroke="#1a1a1a" stroke-width="0.28"><tspan dy="1.2">=</tspan><tspan dy="-1.2"> Cyt c</tspan></text>
<text x="41.9" y="424.6" text-anchor="start" font-size="10.4" fill="#1a1a1a" stroke="#1a1a1a" stroke-width="0.28"><tspan dy="1.2">=</tspan><tspan dy="-1.2"> Caspase</tspan></text>
<text x="41.9" y="454.5" text-anchor="start" font-size="10.4" fill="#1a1a1a" stroke="#1a1a1a" stroke-width="0.28"><tspan dy="1.2">=</tspan><tspan dy="-1.2"> BH3</tspan></text>
</svg>
</body></html>
